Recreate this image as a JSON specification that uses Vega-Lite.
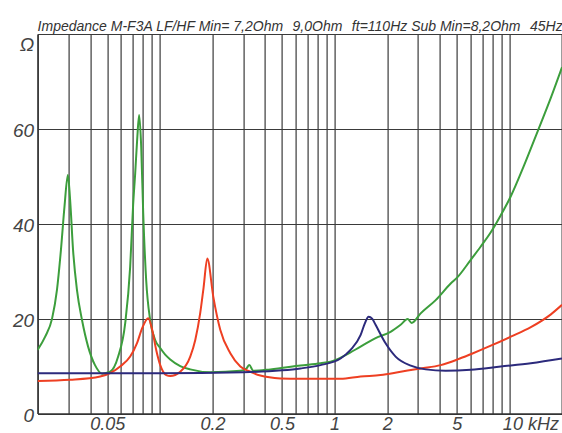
{
  "$schema": "https://vega.github.io/schema/vega-lite/v6.json",
  "autosize": "none",
  "width": 524.4,
  "height": 379.5,
  "padding": {"left": 37.6, "top": 34, "right": 0, "bottom": 19.5},
  "background": "white",
  "title": {
    "text": "Impedance M-F3A LF/HF Min= 7,2Ohm\u2009\u2009 9,0Ohm\u2009\u2009 ft=110Hz Sub Min=8,2Ohm\u2009\u2009 45Hz",
    "anchor": "start",
    "frame": "group",
    "font": "Liberation Sans",
    "fontSize": 14,
    "fontStyle": "italic",
    "fontWeight": "normal",
    "color": "#333",
    "baseline": "alphabetic",
    "offset": -11
  },
  "config": {
    "view": {"stroke": null},
    "axis": {
      "gridColor": "#3a3a3a",
      "gridOpacity": 1,
      "gridWidth": 1.2,
      "domainColor": "#333",
      "domainWidth": 1.5,
      "ticks": false,
      "labelFont": "Liberation Sans",
      "labelFontStyle": "italic",
      "labelFontSize": 18,
      "labelColor": "#444",
      "title": null
    }
  },
  "datasets": {
    "curves": [
      {"f": 0.02, "z": 13.4, "s": "green"},
      {"f": 0.0221, "z": 16.2, "s": "green"},
      {"f": 0.0242, "z": 20.0, "s": "green"},
      {"f": 0.0258, "z": 26.0, "s": "green"},
      {"f": 0.0272, "z": 34.5, "s": "green"},
      {"f": 0.0285, "z": 43.6, "s": "green"},
      {"f": 0.0298, "z": 50.3, "s": "green"},
      {"f": 0.0307, "z": 45.0, "s": "green"},
      {"f": 0.0319, "z": 34.5, "s": "green"},
      {"f": 0.0336, "z": 26.0, "s": "green"},
      {"f": 0.0359, "z": 19.7, "s": "green"},
      {"f": 0.0389, "z": 14.1, "s": "green"},
      {"f": 0.0426, "z": 10.2, "s": "green"},
      {"f": 0.0468, "z": 8.4, "s": "green"},
      {"f": 0.052, "z": 8.8, "s": "green"},
      {"f": 0.0578, "z": 12.0, "s": "green"},
      {"f": 0.0634, "z": 19.0, "s": "green"},
      {"f": 0.0677, "z": 30.9, "s": "green"},
      {"f": 0.0704, "z": 44.0, "s": "green"},
      {"f": 0.0723, "z": 50.5, "s": "green"},
      {"f": 0.0742, "z": 57.6, "s": "green"},
      {"f": 0.0762, "z": 62.9, "s": "green"},
      {"f": 0.0783, "z": 56.2, "s": "green"},
      {"f": 0.0804, "z": 42.2, "s": "green"},
      {"f": 0.0836, "z": 28.1, "s": "green"},
      {"f": 0.0881, "z": 19.7, "s": "green"},
      {"f": 0.0941, "z": 15.5, "s": "green"},
      {"f": 0.1006, "z": 13.8, "s": "green"},
      {"f": 0.1074, "z": 12.4, "s": "green"},
      {"f": 0.1148, "z": 11.4, "s": "green"},
      {"f": 0.1309, "z": 10.0, "s": "green"},
      {"f": 0.1494, "z": 9.3, "s": "green"},
      {"f": 0.1945, "z": 8.7, "s": "green"},
      {"f": 0.289, "z": 9.0, "s": "green"},
      {"f": 0.313, "z": 9.5, "s": "green"},
      {"f": 0.325, "z": 10.2, "s": "green"},
      {"f": 0.343, "z": 9.0, "s": "green"},
      {"f": 0.429, "z": 9.3, "s": "green"},
      {"f": 0.638, "z": 10.1, "s": "green"},
      {"f": 0.831, "z": 10.6, "s": "green"},
      {"f": 0.948, "z": 10.9, "s": "green"},
      {"f": 1.155, "z": 12.3, "s": "green"},
      {"f": 1.408, "z": 14.1, "s": "green"},
      {"f": 1.716, "z": 15.9, "s": "green"},
      {"f": 2.09, "z": 17.2, "s": "green"},
      {"f": 2.387, "z": 18.7, "s": "green"},
      {"f": 2.618, "z": 19.9, "s": "green"},
      {"f": 2.76, "z": 19.1, "s": "green"},
      {"f": 3.108, "z": 21.1, "s": "green"},
      {"f": 3.788, "z": 23.9, "s": "green"},
      {"f": 4.616, "z": 27.4, "s": "green"},
      {"f": 5.064, "z": 28.8, "s": "green"},
      {"f": 6.012, "z": 32.4, "s": "green"},
      {"f": 6.858, "z": 35.2, "s": "green"},
      {"f": 7.828, "z": 38.2, "s": "green"},
      {"f": 8.93, "z": 41.8, "s": "green"},
      {"f": 10.19, "z": 45.8, "s": "green"},
      {"f": 12.1, "z": 52.2, "s": "green"},
      {"f": 14.55, "z": 59.6, "s": "green"},
      {"f": 17.28, "z": 66.6, "s": "green"},
      {"f": 20.0, "z": 73.0, "s": "green"},

      {"f": 0.02, "z": 6.85, "s": "red"},
      {"f": 0.0307, "z": 7.1, "s": "red"},
      {"f": 0.0456, "z": 7.8, "s": "red"},
      {"f": 0.052, "z": 8.5, "s": "red"},
      {"f": 0.0593, "z": 9.9, "s": "red"},
      {"f": 0.0677, "z": 12.0, "s": "red"},
      {"f": 0.0742, "z": 14.9, "s": "red"},
      {"f": 0.0793, "z": 18.0, "s": "red"},
      {"f": 0.0859, "z": 20.1, "s": "red"},
      {"f": 0.0905, "z": 17.6, "s": "red"},
      {"f": 0.0954, "z": 13.4, "s": "red"},
      {"f": 0.1006, "z": 10.2, "s": "red"},
      {"f": 0.1089, "z": 8.1, "s": "red"},
      {"f": 0.1148, "z": 7.9, "s": "red"},
      {"f": 0.1309, "z": 8.8, "s": "red"},
      {"f": 0.1494, "z": 12.0, "s": "red"},
      {"f": 0.1596, "z": 15.5, "s": "red"},
      {"f": 0.1704, "z": 21.2, "s": "red"},
      {"f": 0.178, "z": 26.5, "s": "red"},
      {"f": 0.187, "z": 32.7, "s": "red"},
      {"f": 0.2024, "z": 24.6, "s": "red"},
      {"f": 0.222, "z": 17.6, "s": "red"},
      {"f": 0.2532, "z": 12.7, "s": "red"},
      {"f": 0.289, "z": 9.9, "s": "red"},
      {"f": 0.33, "z": 8.8, "s": "red"},
      {"f": 0.376, "z": 8.0, "s": "red"},
      {"f": 0.49, "z": 7.4, "s": "red"},
      {"f": 0.638, "z": 7.3, "s": "red"},
      {"f": 0.831, "z": 7.3, "s": "red"},
      {"f": 1.082, "z": 7.3, "s": "red"},
      {"f": 1.408, "z": 7.8, "s": "red"},
      {"f": 1.833, "z": 8.1, "s": "red"},
      {"f": 2.387, "z": 8.8, "s": "red"},
      {"f": 3.108, "z": 9.5, "s": "red"},
      {"f": 4.046, "z": 10.2, "s": "red"},
      {"f": 5.064, "z": 11.4, "s": "red"},
      {"f": 6.012, "z": 12.5, "s": "red"},
      {"f": 7.828, "z": 14.3, "s": "red"},
      {"f": 10.19, "z": 16.2, "s": "red"},
      {"f": 13.27, "z": 18.2, "s": "red"},
      {"f": 17.28, "z": 20.9, "s": "red"},
      {"f": 20.0, "z": 22.9, "s": "red"},

      {"f": 0.02, "z": 8.5, "s": "navy"},
      {"f": 0.1, "z": 8.5, "s": "navy"},
      {"f": 0.3, "z": 8.7, "s": "navy"},
      {"f": 0.5, "z": 9.1, "s": "navy"},
      {"f": 0.638, "z": 9.5, "s": "navy"},
      {"f": 0.831, "z": 10.2, "s": "navy"},
      {"f": 1.082, "z": 11.6, "s": "navy"},
      {"f": 1.234, "z": 13.4, "s": "navy"},
      {"f": 1.408, "z": 16.5, "s": "navy"},
      {"f": 1.49, "z": 19.0, "s": "navy"},
      {"f": 1.565, "z": 20.4, "s": "navy"},
      {"f": 1.64, "z": 20.0, "s": "navy"},
      {"f": 1.716, "z": 18.7, "s": "navy"},
      {"f": 1.958, "z": 14.8, "s": "navy"},
      {"f": 2.234, "z": 12.0, "s": "navy"},
      {"f": 2.73, "z": 10.1, "s": "navy"},
      {"f": 3.32, "z": 9.3, "s": "navy"},
      {"f": 4.32, "z": 9.0, "s": "navy"},
      {"f": 6.012, "z": 9.2, "s": "navy"},
      {"f": 8.93, "z": 9.9, "s": "navy"},
      {"f": 13.27, "z": 10.6, "s": "navy"},
      {"f": 20.0, "z": 11.6, "s": "navy"}
    ]
  },
  "data": {"name": "curves"},
  "mark": {"type": "line", "interpolate": "monotone", "strokeWidth": 2, "clip": true},
  "encoding": {
    "x": {
      "field": "f",
      "type": "quantitative",
      "scale": {"type": "log", "domain": [0.02, 20], "nice": false},
      "axis": {
        "values": [0.02, 0.03, 0.04, 0.05, 0.06, 0.07, 0.08, 0.09, 0.1, 0.2, 0.3, 0.4, 0.5, 0.6, 0.7, 0.8, 0.9, 1, 2, 3, 4, 5, 6, 7, 8, 9, 10, 20],
        "labelExpr": "datum.value==0.05?'0.05':datum.value==0.2?'0.2':datum.value==0.5?'0.5':datum.value==1?'1':datum.value==2?'2':datum.value==5?'5':datum.value==10?'10 kHz':''",
        "labelOverlap": false,
        "labelBound": false,
        "labelFlush": false,
        "labelPadding": 2,
        "labelBaseline": "top",
        "labelOffset": {"condition": {"test": "datum.value == 10", "value": 21}, "value": 0},
        "grid": true
      }
    },
    "y": {
      "field": "z",
      "type": "quantitative",
      "scale": {"domain": [0, 80], "nice": false},
      "axis": {
        "values": [0, 20, 40, 60, 80],
        "labelExpr": "datum.value==80?'Ω':datum.label",
        "labelPadding": 4,
        "labelFontSize": 19,
        "labelOffset": {"condition": {"test": "datum.value == 80", "value": 10}, "value": 2},
        "grid": true
      }
    },
    "color": {
      "field": "s",
      "type": "nominal",
      "scale": {"domain": ["green", "red", "navy"], "range": ["#3c9e3c", "#ee3f22", "#2c2a7c"]},
      "legend": null
    }
  }
}
